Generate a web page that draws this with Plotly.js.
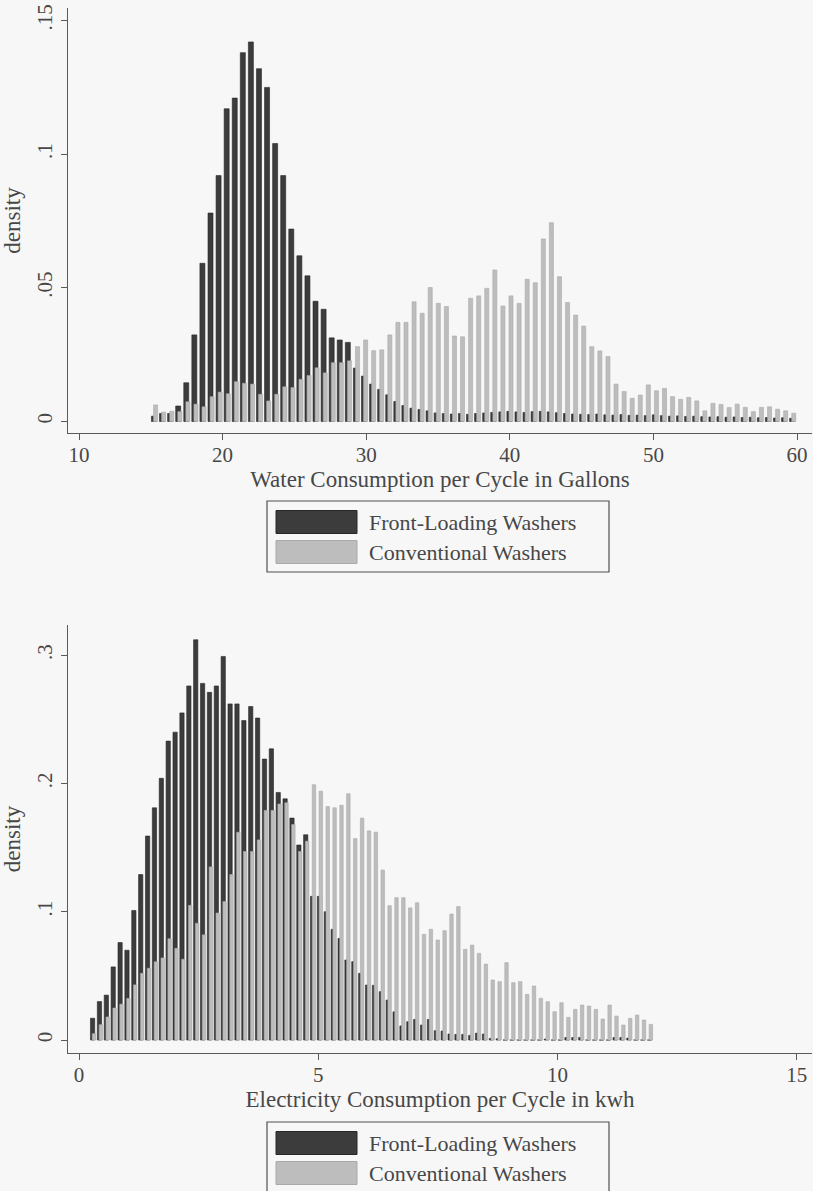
<!DOCTYPE html>
<html>
<head>
<meta charset="utf-8">
<script src="https://cdn.plot.ly/plotly-3.0.1.min.js"></script>
<style>
  html, body { margin: 0; padding: 0; background: #f7f7f7; }
  #chart { width: 813px; height: 1191px; }
</style>
</head>
<body>
<div id="chart"></div>
<script>
// ---------- DATA ----------
// Water consumption histogram (gallons), 80 bins from 15 to 60
const waterBinStart = 15;
const waterBinWidth = 0.5625;
const waterFront = [
  0.002, 0.003, 0.003, 0.0058, 0.0145, 0.0324, 0.0592, 0.078, 0.092, 0.117,
  0.121, 0.138, 0.142, 0.132, 0.125, 0.104, 0.092, 0.072, 0.062, 0.0545,
  0.045, 0.042, 0.0313, 0.0305, 0.0296, 0.020, 0.017, 0.014, 0.012, 0.010,
  0.0075, 0.006, 0.005, 0.0045, 0.004, 0.0032, 0.003, 0.0028, 0.003, 0.0027,
  0.003, 0.0032, 0.0034, 0.0036, 0.0038, 0.0036, 0.0034, 0.0037, 0.0038, 0.0036,
  0.0033, 0.003, 0.0028, 0.0027, 0.0026, 0.0028, 0.0025, 0.0024, 0.0026, 0.0023,
  0.0024, 0.0022, 0.0025, 0.0022, 0.002, 0.0021, 0.0019, 0.002, 0.0018, 0.0017,
  0.0018, 0.0016, 0.0017, 0.0015, 0.0016, 0.0014, 0.0015, 0.0013, 0.0014, 0.0012
];
const waterConv = [
  0.0062, 0.0035, 0.0038, 0.0037, 0.0074, 0.0065, 0.0055, 0.0093, 0.011, 0.0104,
  0.0149, 0.0143, 0.0140, 0.0102, 0.0077, 0.0102, 0.0130, 0.0127, 0.0158, 0.0172,
  0.0201, 0.0182, 0.0220, 0.0220, 0.0227, 0.028, 0.0305, 0.0265, 0.0268, 0.0324,
  0.0371, 0.0371, 0.0448, 0.0405, 0.0501, 0.0442, 0.0430, 0.0320, 0.0317, 0.0461,
  0.0470, 0.0498, 0.0567, 0.0432, 0.0470, 0.0442, 0.0532, 0.0519, 0.0683, 0.0744,
  0.0542, 0.0445, 0.0398, 0.0357, 0.0280, 0.0264, 0.0243, 0.0140, 0.0112, 0.0087,
  0.0099, 0.0137, 0.0115, 0.0124, 0.0093, 0.0083, 0.0090, 0.0077, 0.0040, 0.0068,
  0.0064, 0.0052, 0.0065, 0.0053, 0.0037, 0.0053, 0.0055, 0.0046, 0.0040, 0.0031
];

// Electricity consumption histogram (kwh), 82 bins
const elecBinStart = 0.228;
const elecBinWidth = 0.1437;
const elecFront = [
  0.017, 0.030, 0.035, 0.057, 0.076, 0.070, 0.101, 0.129, 0.159, 0.181,
  0.204, 0.233, 0.240, 0.255, 0.276, 0.312, 0.278, 0.271, 0.276, 0.299,
  0.262, 0.262, 0.249, 0.260, 0.251, 0.219, 0.227, 0.193, 0.188, 0.173,
  0.152, 0.160, 0.112, 0.112, 0.100, 0.0863, 0.0792, 0.0624, 0.0611, 0.052,
  0.0429, 0.0427, 0.0377, 0.0312, 0.022, 0.011, 0.0143, 0.0161, 0.0117, 0.0161,
  0.0073, 0.007, 0.0047, 0.0044, 0.0044, 0.0036, 0.0054, 0.0047, 0.0013, 0.001,
  0, 0, 0, 0, 0, 0, 0.0008, 0, 0, 0.002,
  0.002, 0.002, 0, 0, 0, 0, 0.002, 0.002, 0.0015, 0,
  0, 0
];
const elecConv = [
  0.005, 0.012, 0.018, 0.025, 0.028, 0.0325, 0.043, 0.052, 0.056, 0.061,
  0.064, 0.079, 0.0715, 0.063, 0.105, 0.091, 0.082, 0.135, 0.099, 0.108,
  0.129, 0.162, 0.147, 0.147, 0.156, 0.179, 0.179, 0.184, 0.185, 0.168,
  0.147, 0.155, 0.199, 0.194, 0.182, 0.181, 0.183, 0.192, 0.157, 0.173,
  0.163, 0.162, 0.1325, 0.1047, 0.111, 0.111, 0.103, 0.107, 0.0824, 0.0863,
  0.078, 0.0852, 0.0982, 0.104, 0.0707, 0.074, 0.0676, 0.0592, 0.0468, 0.0455,
  0.0603, 0.0447, 0.0455, 0.0356, 0.0421, 0.0325, 0.0299, 0.0221, 0.0291, 0.0177,
  0.0239, 0.0273, 0.0265, 0.0239, 0.0164, 0.0273, 0.0187, 0.0117, 0.0169, 0.0195,
  0.0156, 0.0122
];

const seriesNames = ['Front-Loading Washers', 'Conventional Washers'];
const waterTicks = [10, 20, 30, 40, 50, 60];
const waterYTicks = [0, 0.05, 0.1, 0.15];
const waterYTickText = ['0', '.05', '.1', '.15'];
const elecTicks = [0, 5, 10, 15];
const elecYTicks = [0, 0.1, 0.2, 0.3];
const elecYTickText = ['0', '.1', '.2', '.3'];
const waterTitle = 'Water Consumption per Cycle in Gallons';
const elecTitle = 'Electricity Consumption per Cycle in kwh';
const yTitle = 'density';

// ---------- STYLE ----------
const DARK = '#3c3c3c', DARK_LINE = '#272727';
const LIGHT = '#bdbdbd', LIGHT_LINE = '#a9a9a9';
const TXT = '#474747', AX = '#5a5a5a';
const FONT = 'Liberation Serif, DejaVu Serif, serif';

const centers = (start, w, arr) => arr.map((_, i) => start + w * (i + 0.5));

function barTrace(xs, ys, w, dark, xa, ya, name) {
  return {
    type: 'bar', x: xs, y: ys, xaxis: xa, yaxis: ya, name: name,
    showlegend: false,
    offset: dark ? -0.42 * w : -0.16 * w,
    width: dark ? 0.62 * w : 0.5 * w,
    marker: { color: dark ? DARK : LIGHT, line: { color: dark ? DARK_LINE : LIGHT_LINE, width: 0.6 } },
    hoverinfo: 'x+y'
  };
}

const wx = centers(waterBinStart, waterBinWidth, waterFront);
const ex = centers(elecBinStart, elecBinWidth, elecFront);

const data = [
  barTrace(wx, waterFront, waterBinWidth, true, 'x', 'y', seriesNames[0]),
  barTrace(wx, waterConv, waterBinWidth, false, 'x', 'y', seriesNames[1]),
  barTrace(ex, elecFront, elecBinWidth, true, 'x2', 'y2', seriesNames[0]),
  barTrace(ex, elecConv, elecBinWidth, false, 'x2', 'y2', seriesNames[1])
];

// plot area in pixels: left 68, right 812, top 8, bottom 1053
const L = 68, R = 812, T = 8, B = 1053;
const PX = x => (x - L) / (R - L);
const PY = y => (B - y) / (B - T);

function xAxis(range, ticks, title, anchor) {
  return {
    anchor: anchor, domain: [0, 1], range: range, tickvals: ticks,
    ticks: 'outside', ticklen: 6, tickwidth: 1, tickcolor: AX,
    showline: true, linecolor: AX, linewidth: 1.2,
    showgrid: false, zeroline: false, ticklabelstandoff: -3,
    tickfont: { family: FONT, size: 21, color: TXT },
    title: { text: title, font: { family: FONT, size: 23, color: TXT }, standoff: 2 }
  };
}
function yAxis(domain, range, ticks, ticktext, anchor) {
  return {
    anchor: anchor, domain: domain, range: range, tickvals: ticks, ticktext: ticktext,
    tickangle: -90, ticks: 'outside', ticklen: 6, tickwidth: 1, tickcolor: AX,
    showline: true, linecolor: AX, linewidth: 1.2,
    showgrid: false, zeroline: false,
    tickfont: { family: FONT, size: 21, color: TXT },
    title: { text: yTitle, font: { family: FONT, size: 23, color: TXT }, standoff: 6 }
  };
}

const shapes = [];
const annotations = [];
function legendBox(top, names) {
  shapes.push({ type: 'rect', xref: 'paper', yref: 'paper', layer: 'above',
    x0: PX(267), x1: PX(609), y0: PY(top), y1: PY(top + 71),
    line: { color: '#505050', width: 1.2 }, fillcolor: 'rgba(0,0,0,0)' });
  const rows = [{ c: DARK, lc: DARK_LINE }, { c: LIGHT, lc: LIGHT_LINE }];
  rows.forEach((r, i) => {
    const y0 = top + 9.5 + 30 * i;
    shapes.push({ type: 'rect', xref: 'paper', yref: 'paper', layer: 'above',
      x0: PX(276), x1: PX(357), y0: PY(y0), y1: PY(y0 + 23),
      line: { color: r.lc, width: 1 }, fillcolor: r.c });
    annotations.push({ xref: 'paper', yref: 'paper', x: PX(367), y: PY(y0 + 11.5),
      xanchor: 'left', yanchor: 'middle', showarrow: false, text: names[i],
      font: { family: FONT, size: 22, color: TXT } });
  });
}
legendBox(501, seriesNames);
legendBox(1122, seriesNames);

const layout = {
  width: 813, height: 1191,
  margin: { l: L, r: 813 - R, t: T, b: 1191 - B },
  paper_bgcolor: '#f7f7f7', plot_bgcolor: '#f7f7f7',
  barmode: 'overlay', showlegend: false,
  xaxis: xAxis([9.234, 61.04], waterTicks, waterTitle, 'y'),
  yaxis: yAxis([PY(433), 1], [-0.0043, 0.1547], waterYTicks, waterYTickText, 'x'),
  xaxis2: xAxis([-0.23, 15.32], elecTicks, elecTitle, 'y2'),
  yaxis2: yAxis([0, PY(625)], [-0.0101, 0.3235], elecYTicks, elecYTickText, 'x2'),
  shapes: shapes, annotations: annotations
};

Plotly.newPlot('chart', data, layout, { staticPlot: true, displayModeBar: false });
</script>
</body>
</html>
